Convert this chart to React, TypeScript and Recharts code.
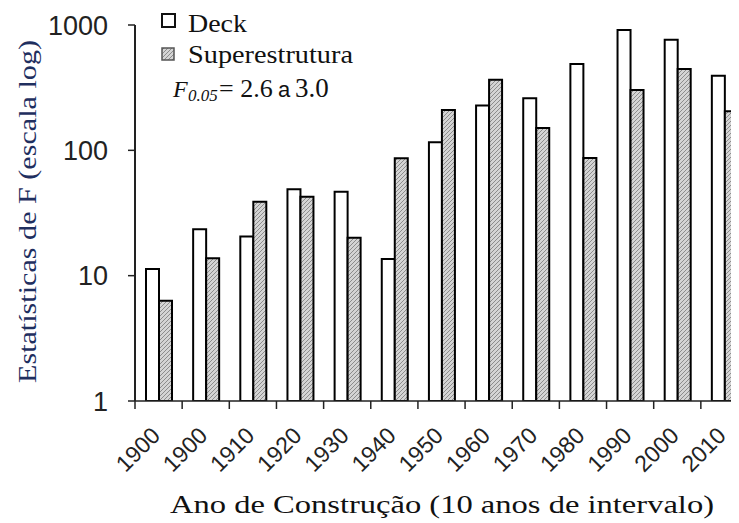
import React from 'react';
import { BarChart, Bar, XAxis, YAxis, Customized } from 'recharts';

const yearLabels = ['1900', '1900', '1910', '1920', '1930', '1940', '1950', '1960', '1970', '1980', '1990', '2000', '2010'];
const deckValues = [11.3, 23.5, 20.5, 49, 46.7, 13.6, 116, 228, 260, 488, 912, 764, 394];
const superValues = [6.3, 13.8, 38.9, 42.6, 20.1, 86.5, 210, 366, 151, 87, 303, 445, 205];
const yTicks = [1, 10, 100, 1000];

const data = yearLabels.map((label, i) => ({
  key: String(i),
  label,
  deck: deckValues[i],
  superestrutura: superValues[i],
}));

const W = 740;
const H = 515;
const margin = { top: 17, right: 0, bottom: 62, left: 47 };
const Y_AXIS_W = 80;
const X_AXIS_H = 60;
const PLOT_W = W - margin.left - margin.right - Y_AXIS_W;
const BAND = PLOT_W / yearLabels.length;

const SERIF = '"Liberation Serif", "Times New Roman", serif';
const SANS = '"Liberation Sans", Arial, sans-serif';

function XTick(props: any) {
  const { x, y, index } = props;
  const ax = x + 3;
  const ay = y + 36;
  return (
    <g>
      <line x1={x - BAND / 2} x2={x - BAND / 2} y1={y} y2={y + 8} stroke="#222" strokeWidth={1.5} />
      <text
        x={ax}
        y={ay}
        transform={`rotate(-45 ${ax} ${ay})`}
        textAnchor="end"
        fontFamily={SANS}
        fontSize={23}
        fill="#222"
      >
        {yearLabels[index]}
      </text>
    </g>
  );
}

function YTick(props: any) {
  const { x, y, payload } = props;
  return (
    <text x={x} y={y} dy="0.36em" textAnchor="end" fontFamily={SANS} fontSize={27} fill="#222">
      {payload.value}
    </text>
  );
}

function Overlay() {
  return (
    <g>
      <defs>
        <pattern id="hatch" patternUnits="userSpaceOnUse" width={4} height={4}>
          <rect x={0} y={0} width={4} height={4} fill="#d4d4d4" />
          <path d="M-1,1 l2,-2 M0,4 l4,-4 M3,5 l2,-2" stroke="#8c8c8c" strokeWidth={1} />
        </pattern>
      </defs>
      {/* Legend */}
      <rect x={154} y={6} width={13} height={13} fill="#fff" stroke="#111" strokeWidth={2} />
      <text x={180} y={23.7} fontFamily={SERIF} fontSize={26} fill="#111" textLength={59} lengthAdjust="spacingAndGlyphs">
        Deck
      </text>
      <rect x={154} y={40} width={12} height={12} fill="url(#hatch)" stroke="#555" strokeWidth={1.5} />
      <text x={180} y={55.3} fontFamily={SERIF} fontSize={26} fill="#111" textLength={165} lengthAdjust="spacingAndGlyphs">
        Superestrutura
      </text>
      <text x={165} y={88.7} fontFamily={SERIF} fontSize={24} fill="#111" fontStyle="italic">F</text>
      <text x={180} y={93} fontFamily={SERIF} fontSize={17} fill="#111" fontStyle="italic">0.05</text>
      <text x={211} y={88.7} fontFamily={SERIF} fontSize={26} fill="#111">= 2.6</text>
      <text x={270} y={88.7} fontFamily={SANS} fontSize={22} fill="#111">a</text>
      <text x={287} y={88.7} fontFamily={SERIF} fontSize={27} fill="#111">3.0</text>
      {/* Axis titles */}
      <text
        x={28}
        y={203.5}
        transform="rotate(-90 28 203.5)"
        textAnchor="middle"
        fontFamily={SERIF}
        fontSize={26}
        fill="#1f2f5f"
        textLength={343}
        lengthAdjust="spacingAndGlyphs"
      >
        Estatísticas de F (escala log)
      </text>
      <text
        x={434}
        y={505}
        textAnchor="middle"
        fontFamily={SERIF}
        fontSize={26}
        fill="#111"
        textLength={544}
        lengthAdjust="spacingAndGlyphs"
      >
        Ano de Construção (10 anos de intervalo)
      </text>
    </g>
  );
}

export default function App() {
  return (
    <div style={{ width: 731, height: H, overflow: 'hidden' }}>
      <style>{'html,body{overflow:hidden}'}</style>
      <BarChart width={W} height={H} data={data} margin={margin} barGap={0}>
        <Customized component={Overlay} />
        <XAxis
          dataKey="key"
          height={X_AXIS_H}
          tickLine={false}
          tickSize={0}
          tickMargin={0}
          interval={0}
          tick={XTick}
          axisLine={{ stroke: '#222', strokeWidth: 1.5 }}
        />
        <YAxis
          type="number"
          scale="log"
          domain={[1, 1000]}
          ticks={yTicks}
          allowDataOverflow
          width={Y_AXIS_W}
          tickSize={7}
          tickMargin={20}
          tick={YTick}
          tickLine={{ stroke: '#222', strokeWidth: 1.5 }}
          axisLine={{ stroke: '#222', strokeWidth: 2 }}
        />
        <Bar dataKey="deck" barSize={13} fill="#ffffff" stroke="#000" strokeWidth={2} isAnimationActive={false} />
        <Bar dataKey="superestrutura" barSize={13} fill="url(#hatch)" stroke="#000" strokeWidth={2} isAnimationActive={false} />
      </BarChart>
    </div>
  );
}
